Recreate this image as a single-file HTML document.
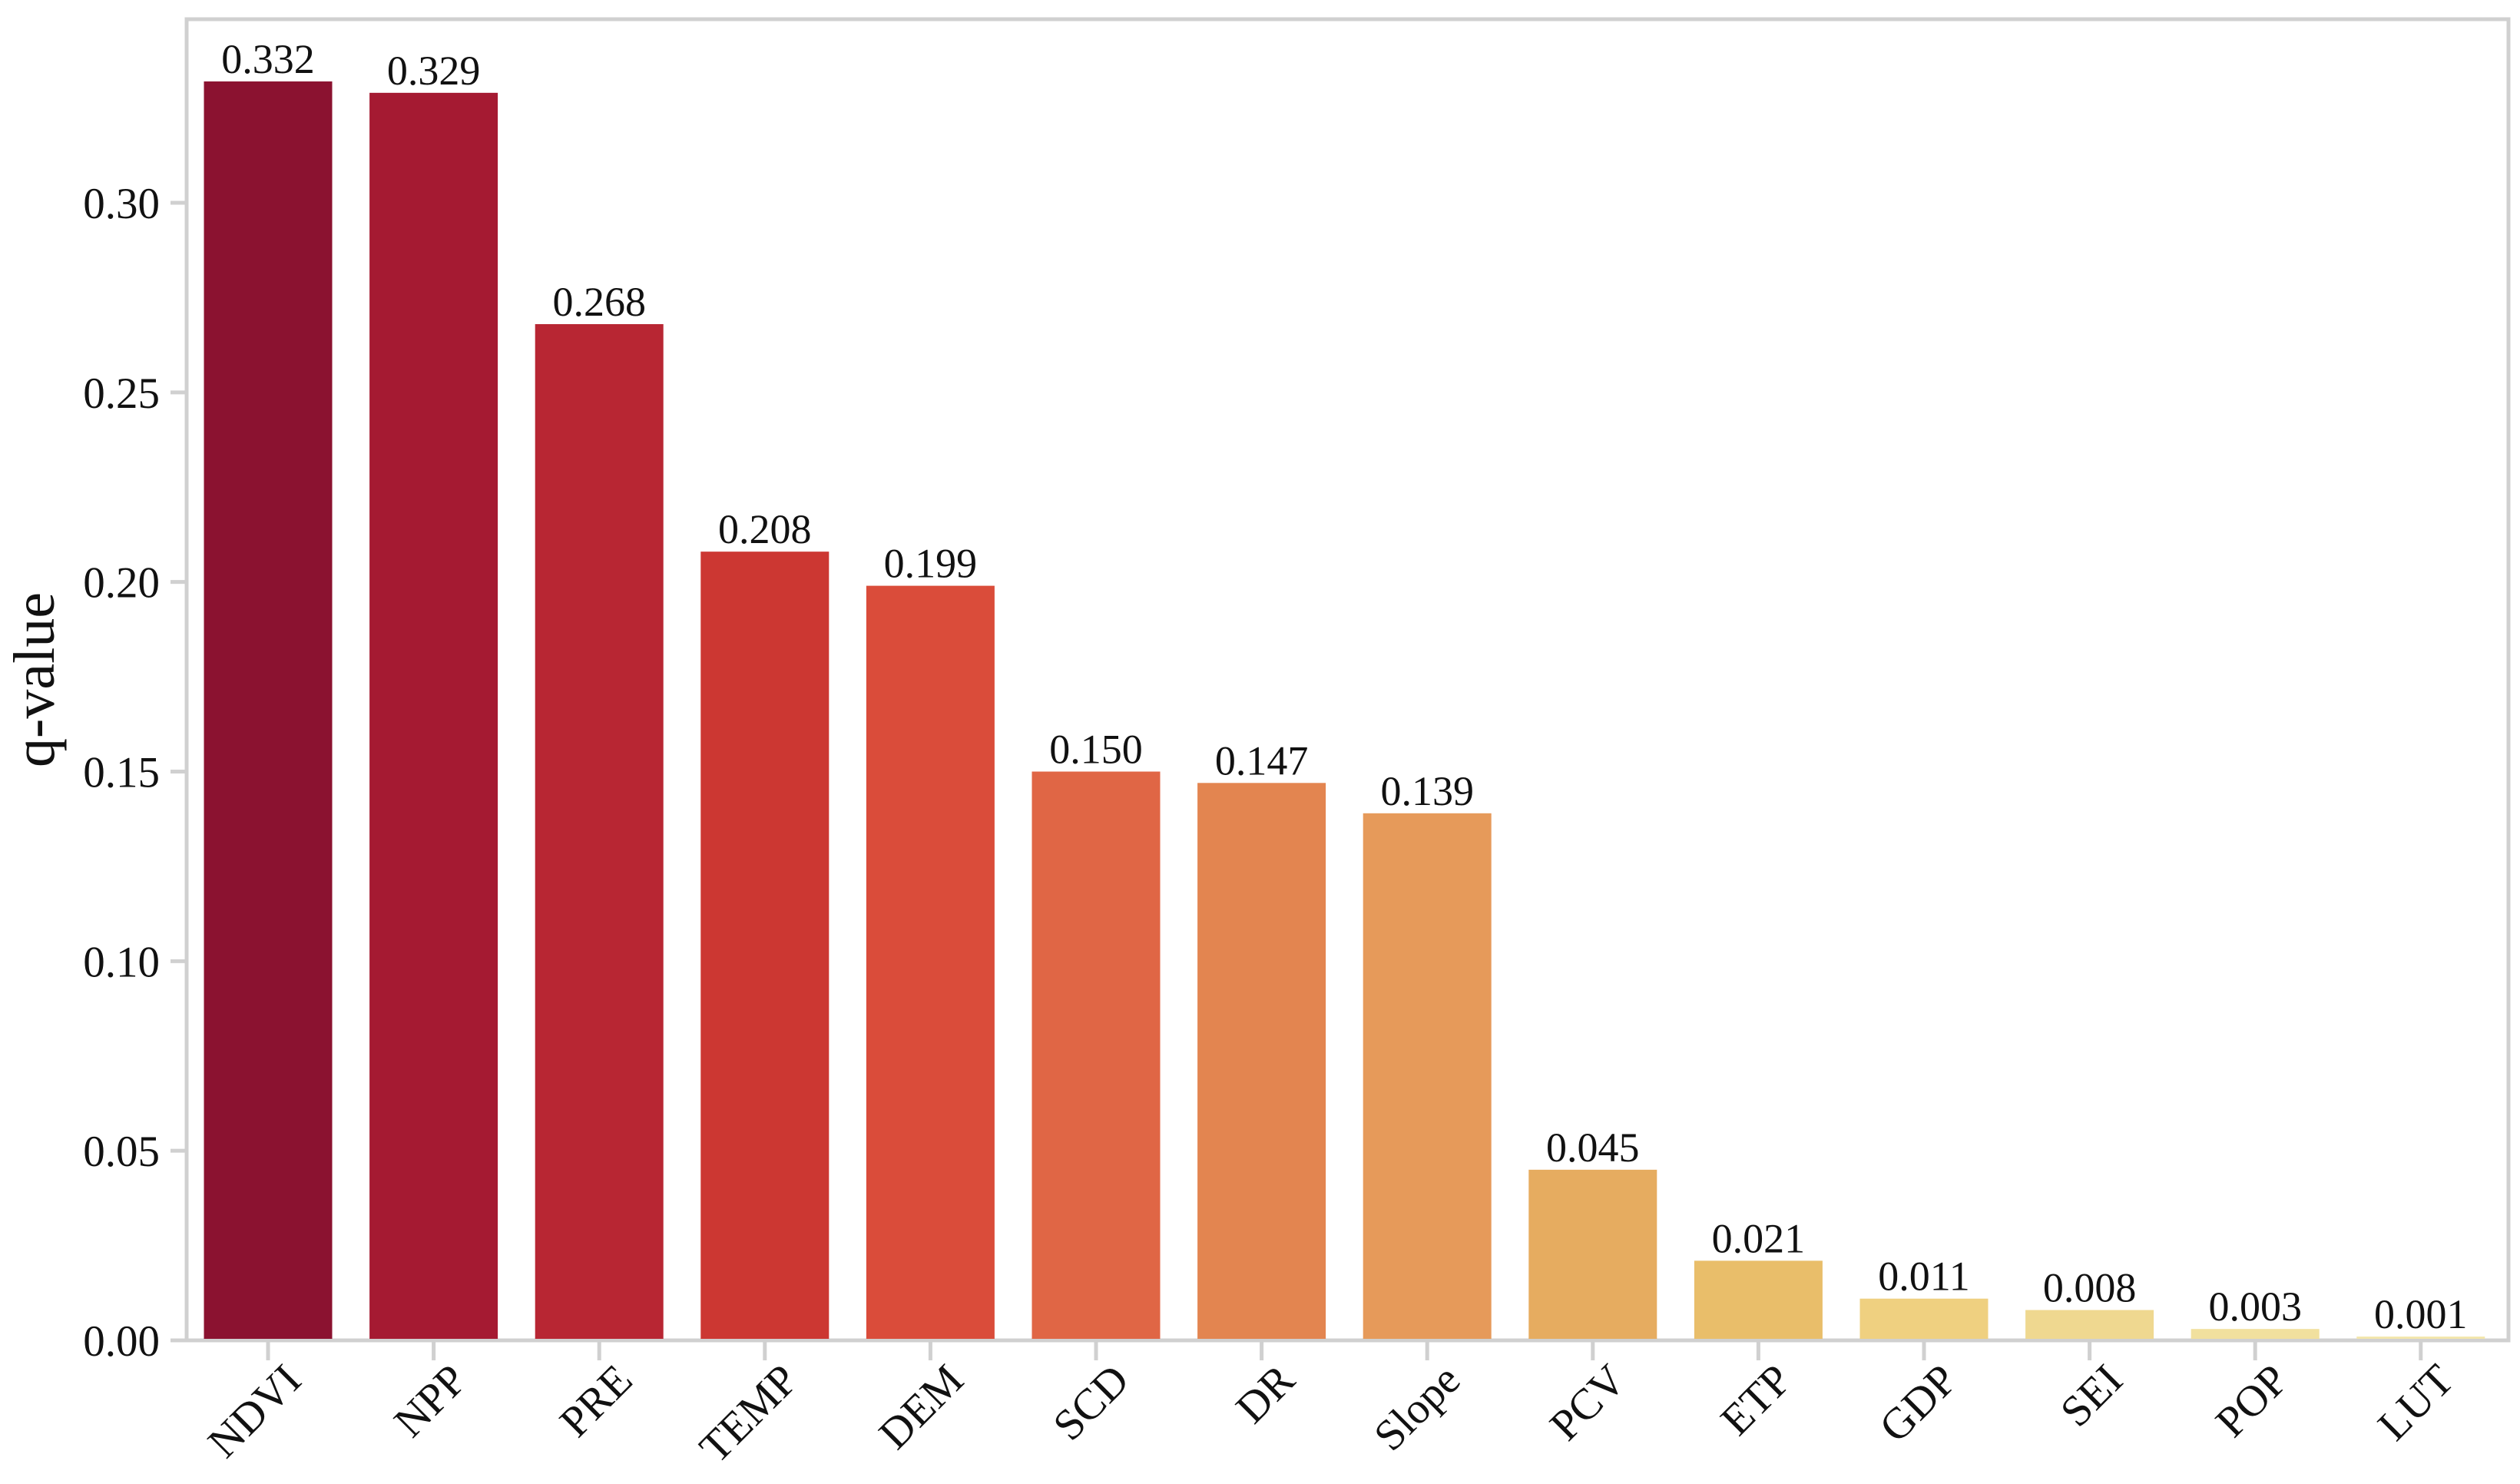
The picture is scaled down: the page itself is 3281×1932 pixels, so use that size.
<!DOCTYPE html>
<html><head><meta charset="utf-8"><style>
html,body{margin:0;padding:0;background:#fff;}
svg{display:block;font-family:"Liberation Serif","DejaVu Serif",serif;}
</style></head><body>
<svg id="chart" width="3281" height="1932" viewBox="0 0 3281 1932">
<rect x="243" y="25" width="3023" height="1720" fill="#fff" stroke="#d0d0d0" stroke-width="5"/>
<g id="bars"></g>
<g id="yaxis"></g>
<g id="xaxis"></g>
<text x="70" y="885" font-size="76" text-anchor="middle" transform="rotate(-90 70 885)" fill="#111">q-value</text>
</svg>
<script>
const categories = ["NDVI","NPP","PRE","TEMP","DEM","SCD","DR","Slope","PCV","ETP","GDP","SEI","POP","LUT"];
const values = [0.332,0.329,0.268,0.208,0.199,0.150,0.147,0.139,0.045,0.021,0.011,0.008,0.003,0.001];
const valueLabels = ["0.332","0.329","0.268","0.208","0.199","0.150","0.147","0.139","0.045","0.021","0.011","0.008","0.003","0.001"];
const colors = ["#8B1230","#A51A32","#B82633","#CC3732","#DA4C3A","#E06645","#E38550","#E69A5A","#E6AC60","#E9BE6A","#EFD080","#EFD890","#F1E09E","#F3E6AC"];
const yTicks = [0,0.05,0.10,0.15,0.20,0.25,0.30];
const yTickLabels = ["0.00","0.05","0.10","0.15","0.20","0.25","0.30"];

const NS="http://www.w3.org/2000/svg";
const y0=1745, pxPerUnit=(1745-264)/0.30;
function yScale(v){return y0 - v*pxPerUnit;}
const x0=349, step=215.6, bw=167;
function xScale(i){return x0 + i*step;}

const bars=document.getElementById('bars');
const xaxis=document.getElementById('xaxis');
const yaxis=document.getElementById('yaxis');

categories.forEach((c,i)=>{
  const cx=xScale(i), top=yScale(values[i]);
  const r=document.createElementNS(NS,'rect');
  r.setAttribute('x',cx-bw/2); r.setAttribute('y',top);
  r.setAttribute('width',bw); r.setAttribute('height',Math.max(1,y0-2-top));
  r.setAttribute('fill',colors[i]);
  
  
  bars.appendChild(r);
  const t=document.createElementNS(NS,'text');
  t.setAttribute('x',cx); t.setAttribute('y',top-11);
  t.setAttribute('font-size','54'); t.setAttribute('text-anchor','middle'); t.setAttribute('fill','#111');
  t.textContent=valueLabels[i];
  
  
  bars.appendChild(t);
  const tk=document.createElementNS(NS,'line');
  tk.setAttribute('x1',cx); tk.setAttribute('x2',cx); tk.setAttribute('y1',y0+2); tk.setAttribute('y2',y0+26);
  tk.setAttribute('stroke','#d0d0d0'); tk.setAttribute('stroke-width','5');
  
  
  xaxis.appendChild(tk);
  const lx=cx+46, ly=1800;
  const lt=document.createElementNS(NS,'text');
  lt.setAttribute('x',lx); lt.setAttribute('y',ly);
  lt.setAttribute('font-size','57'); lt.setAttribute('text-anchor','end'); lt.setAttribute('fill','#111');
  lt.setAttribute('transform','rotate(-45 '+lx+' '+ly+')');
  lt.textContent=c;
  
  
  xaxis.appendChild(lt);
});

yTicks.forEach((v,i)=>{
  const y=yScale(v);
  const tk=document.createElementNS(NS,'line');
  tk.setAttribute('x1',222); tk.setAttribute('x2',241); tk.setAttribute('y1',y); tk.setAttribute('y2',y);
  tk.setAttribute('stroke','#d0d0d0'); tk.setAttribute('stroke-width','5');
  
  
  yaxis.appendChild(tk);
  const t=document.createElementNS(NS,'text');
  t.setAttribute('x',208); t.setAttribute('y',y+20);
  t.setAttribute('font-size','57'); t.setAttribute('text-anchor','end'); t.setAttribute('fill','#111');
  t.textContent=yTickLabels[i];
  
  
  yaxis.appendChild(t);
});
</script>
</body></html>
